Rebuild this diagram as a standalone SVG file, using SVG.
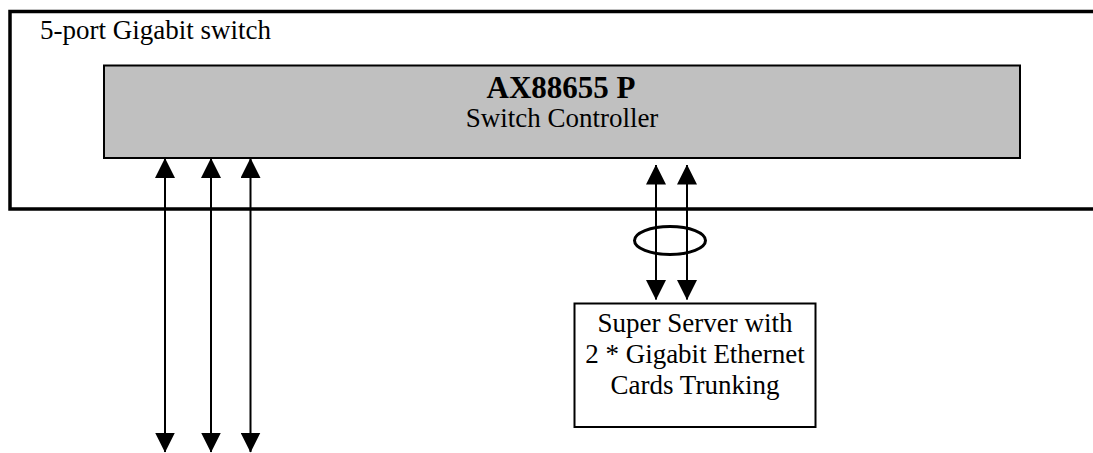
<svg xmlns="http://www.w3.org/2000/svg" width="1093" height="453" viewBox="0 0 1093 453">
  <style>
    .t { font-family: "Liberation Serif", "Times New Roman", serif; font-size: 27px; fill: #000; }
    .b { font-family: "Liberation Serif", "Times New Roman", serif; font-size: 31px; font-weight: bold; fill: #000; }
    .conn { stroke: #000; stroke-width: 2; fill: none; marker-start: url(#ah); marker-end: url(#ah); }
  </style>
  <defs>
    <marker id="ah" markerUnits="userSpaceOnUse" markerWidth="20" markerHeight="20" viewBox="0 0 20 20" refX="19.5" refY="10" orient="auto-start-reverse">
      <path d="M0,0 L20,10 L0,20 z" fill="#000"/>
    </marker>
  </defs>
  <rect width="1093" height="453" fill="#fff"/>
  <g id="switch">
    <path d="M1093,11.5 H10 V209 H1093" fill="none" stroke="#000" stroke-width="3.5"/>
    <text class="t" x="40" y="38.5">5-port Gigabit switch</text>
  </g>
  <g id="controller">
    <rect x="104" y="65.5" width="916" height="92.5" fill="#c0c0c0" stroke="#000" stroke-width="2"/>
    <text class="b" x="561" y="97.5" text-anchor="middle">AX88655 P</text>
    <text class="t" x="562" y="127" text-anchor="middle">Switch Controller</text>
  </g>
  <g id="server">
    <rect x="574.5" y="303.5" width="241" height="123.5" fill="#fff" stroke="#000" stroke-width="2"/>
    <text class="t" x="695" y="332" text-anchor="middle">Super Server with</text>
    <text class="t" x="695" y="363" text-anchor="middle">2 * Gigabit Ethernet</text>
    <text class="t" x="695" y="394" text-anchor="middle">Cards Trunking</text>
  </g>
  <g id="connectors">
    <line class="conn" x1="165" y1="158.5" x2="165" y2="452"/>
    <line class="conn" x1="211" y1="158.5" x2="211" y2="452"/>
    <line class="conn" x1="250.5" y1="158.5" x2="250.5" y2="452"/>
    <line class="conn" x1="656" y1="165" x2="656" y2="299.5"/>
    <line class="conn" x1="687" y1="165" x2="687" y2="299.5"/>
    <ellipse cx="670" cy="240.5" rx="35.5" ry="14" fill="none" stroke="#000" stroke-width="3"/>
  </g>
</svg>
